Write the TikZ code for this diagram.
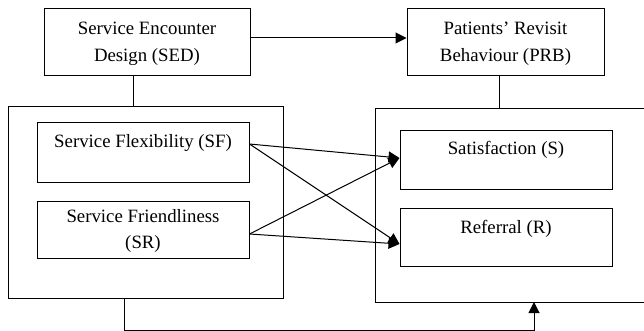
\documentclass[tikz,border=0pt]{standalone}
\usepackage{fontspec}
\setmainfont{Liberation Serif}
\usetikzlibrary{arrows.meta}
\begin{document}
\begin{tikzpicture}[x=1pt,y=-1pt,
  box/.style={draw, line width=1pt, rectangle, inner sep=0pt},
  txt/.style={font=\fontsize{18.8}{26.5}\selectfont, align=center, inner sep=0pt},
  conn/.style={line width=1pt},
  arr/.style={line width=1pt, -{Triangle[length=11pt,width=11pt]}}]
\useasboundingbox (0,0) rectangle (644,331);
% top boxes
\node[box, minimum width=206pt, minimum height=67pt] (sed) at (147,42.5) {};
\node[txt] at ([yshift=-1.5pt]sed.center) {Service Encounter\\Design (SED)};
\node[box, minimum width=197pt, minimum height=67pt] (prb) at (505.5,42.5) {};
\node[txt] at ([yshift=-1.5pt]prb.center) {Patients’ Revisit\\Behaviour (PRB)};
% left group
\node[box, minimum width=275pt, minimum height=191pt] (left) at (145.5,202.5) {};
\node[box, minimum width=212pt, minimum height=59pt] (sf) at (143,152.5) {};
\node[txt, anchor=base] at ([yshift=-25.5pt]sf.north) {Service Flexibility (SF)};
\node[box, minimum width=212pt, minimum height=57pt] (sr) at (143,229.5) {};
\node[txt] at ([yshift=-1.5pt]sr.center) {Service Friendliness\\(SR)};
% right group (open at right edge)
\coordinate (rtr) at (644,109);
\coordinate (rtl) at (375,109);
\coordinate (rbl) at (375,302);
\coordinate (rbr) at (644,302);
\draw[conn] (rtr) -- (rtl) -- (rbl) -- (rbr);
\node[box, minimum width=212pt, minimum height=58pt] (sat) at (506,160) {};
\node[txt, anchor=base] at ([yshift=-24pt]sat.north) {Satisfaction (S)};
\node[box, minimum width=212pt, minimum height=58pt] (ref) at (506,237.5) {};
\node[txt, anchor=base] at ([yshift=-25pt]ref.north) {Referral (R)};
% connectors
\coordinate (rtop) at (499,109);
\coordinate (rbot) at (534,302);
\draw[arr] (sed.east |- 0,38) -- (prb.west |- 0,38);
\draw[conn] (sed.south -| 133,0) -- (left.north -| 133,0);
\draw[conn] (prb.south -| rtop) -- (rtop);
\coordinate (sfo) at (sf.east |- 0,144);
\coordinate (sro) at (sr.east |- 0,234);
\coordinate (sati) at (sat.west |- 0,158);
\coordinate (refi) at (ref.west |- 0,244);
\draw[arr] (sfo) -- (sati);
\draw[arr] (sfo) -- (refi);
\draw[arr] (sro) -- (sati);
\draw[arr] (sro) -- (refi);
\draw[arr] (left.south -| 124,0) -- (124,330) -| (rbot);
\end{tikzpicture}
\end{document}
